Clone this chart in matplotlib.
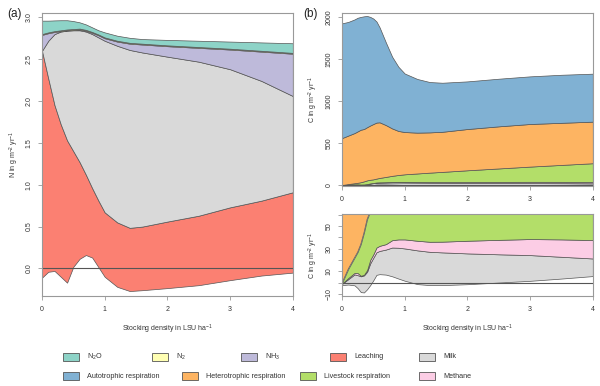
import numpy as np
import matplotlib
matplotlib.use("Agg")
import matplotlib.pyplot as plt
from matplotlib.patches import Rectangle

plt.rcParams["font.family"] = ["Liberation Sans", "DejaVu Sans"]
plt.rcParams["mathtext.default"] = "regular"

# ---- (a) nitrogen, stacked boundaries (g N m-2 yr-1) ----
x_n = [0, 0.1, 0.2, 0.3, 0.4, 0.5, 0.6, 0.7, 0.8, 0.9, 1.0, 1.2, 1.4, 1.6, 2.0, 2.5, 3.0, 3.5, 4.0]
n_base = [-0.11, -0.04, -0.03, -0.10, -0.17, 0.02, 0.115, 0.16, 0.13, 0.015, -0.10, -0.22, -0.27, -0.26, -0.235, -0.20, -0.14, -0.085, -0.05]
leach_top = [2.60, 2.27, 1.95, 1.72, 1.53, 1.40, 1.27, 1.12, 0.96, 0.81, 0.67, 0.55, 0.485, 0.50, 0.56, 0.63, 0.73, 0.81, 0.91]
milk_n_top = [2.60, 2.72, 2.80, 2.83, 2.84, 2.845, 2.845, 2.83, 2.80, 2.76, 2.72, 2.66, 2.61, 2.58, 2.53, 2.47, 2.38, 2.24, 2.06]
nh3_top = [2.79, 2.81, 2.825, 2.835, 2.845, 2.85, 2.855, 2.84, 2.815, 2.785, 2.75, 2.71, 2.685, 2.675, 2.655, 2.635, 2.615, 2.59, 2.565]
n2_top = [2.80, 2.82, 2.835, 2.845, 2.855, 2.86, 2.865, 2.85, 2.825, 2.795, 2.76, 2.72, 2.695, 2.685, 2.665, 2.645, 2.625, 2.60, 2.575]
n2o_top = [2.96, 2.96, 2.963, 2.965, 2.965, 2.955, 2.94, 2.915, 2.88, 2.845, 2.82, 2.78, 2.755, 2.74, 2.73, 2.72, 2.71, 2.70, 2.69]

# ---- (b) carbon, stacked boundaries (g C m-2 yr-1) ----
x_c = [0, 0.1, 0.2, 0.25, 0.3, 0.35, 0.4, 0.45, 0.5, 0.55, 0.6, 0.7, 0.8, 0.9, 1.0, 1.2, 1.4, 1.6, 2.0, 2.5, 3.0, 3.5, 4.0]
c_base = [-2.3, -1.8, -2.5, -5, -8.5, -8.8, -6, -2.3, 2, 6.8, 7.4, 7.0, 5.5, 3.5, 1.6, -1.4, -2.3, -2.3, -1.5, 0, 1.5, 3.5, 5.7]
milk_c_top = [-1.2, 3, 7.2, 6.5, 5.5, 6.3, 9.5, 17, 22, 26.8, 28, 29.2, 31, 30.8, 30.2, 28.5, 27.2, 26.7, 25.8, 25, 24.3, 22.8, 21.3]
methane_top = [-1, 4, 8.5, 8.4, 6, 6.8, 11, 20, 25, 31, 32.5, 34, 37.5, 38.2, 38.2, 37, 36.1, 36.2, 37, 37.8, 38.5, 38.2, 37.6]
livestock_top = [-0.5, 12, 22, 27, 34, 44, 56, 63, 68, 77, 85, 97, 110, 120, 128, 138, 148, 157, 176, 198, 220, 240, 260]
hetero_top = [560, 590, 620, 640, 660, 668, 690, 710, 728, 745, 748, 715, 675, 645, 632, 625, 628, 635, 668, 700, 728, 742, 756]
auto_top = [1928, 1945, 1975, 1995, 2005, 2012, 2016, 2005, 1985, 1950, 1880, 1700, 1530, 1410, 1330, 1265, 1228, 1220, 1236, 1268, 1296, 1315, 1328]

col = {"N2O": "#8DD3C7", "N2": "#FFFFB3", "NH3": "#BEBADA", "Leaching": "#FB8072",
       "Milk": "#D9D9D9", "Auto": "#80B1D3", "Hetero": "#FDB462",
       "Livestock": "#B3DE69", "Methane": "#FCCDE5"}
edge = "#555555"
axcol = "#999999"
txtcol = "#333333"
fs = 5

n_layers = [(n_base, leach_top, col["Leaching"]), (leach_top, milk_n_top, col["Milk"]),
            (milk_n_top, nh3_top, col["NH3"]), (nh3_top, n2_top, col["N2"]),
            (n2_top, n2o_top, col["N2O"])]
c_layers = [(c_base, milk_c_top, col["Milk"]), (milk_c_top, methane_top, col["Methane"]),
            (methane_top, livestock_top, col["Livestock"]), (livestock_top, hetero_top, col["Hetero"]),
            (hetero_top, auto_top, col["Auto"])]


def style(ax):
    for s in ax.spines.values():
        s.set_color(axcol)
        s.set_linewidth(0.8)
    ax.tick_params(direction="out", length=3, width=0.6, color=axcol,
                   labelsize=fs, labelcolor=txtcol, pad=4)
    ax.tick_params(which="minor", direction="out", length=3, width=0.6, color=axcol)
    ax.set_xlim(0, 4)
    ax.set_xticks([0, 1, 2, 3, 4])
    plt.setp(ax.get_yticklabels(), rotation=90, va="center")


def draw(ax, x, layers):
    for lo, hi, c in layers:
        ax.fill_between(x, lo, hi, facecolor=c, edgecolor=edge, linewidth=0.5)
    ax.axhline(0, color="#555555", linewidth=0.8)


fig = plt.figure(figsize=(6, 3.86), dpi=100)
xlab = "Stocking density in LSU ha$^{-1}$"

ax1 = fig.add_axes([0.07, 0.233, 0.418, 0.733])
draw(ax1, x_n, n_layers)
ax1.set_ylim(-0.33, 3.05)
ax1.set_yticks([0, 0.5, 1.0, 1.5, 2.0, 2.5, 3.0])
ax1.set_yticklabels(["0.0", "0.5", "1.0", "1.5", "2.0", "2.5", "3.0"])
style(ax1)
ax1.set_ylabel("N in g m$^{-2}$ yr$^{-1}$", fontsize=fs, color=txtcol, labelpad=3)
ax1.set_xlabel(xlab, fontsize=fs, color=txtcol, labelpad=7)

ax2 = fig.add_axes([0.57, 0.518, 0.418, 0.448])
draw(ax2, x_c, c_layers)
ax2.set_ylim(-12, 2050)
ax2.set_yticks([0, 500, 1000, 1500, 2000])
style(ax2)
ax2.set_ylabel("C in g m$^{-2}$ yr$^{-1}$", fontsize=fs, color=txtcol, labelpad=4)

ax3 = fig.add_axes([0.57, 0.233, 0.418, 0.212])
draw(ax3, x_c, c_layers)
ax3.set_ylim(-12, 60.5)
ax3.set_yticks([-10, 10, 30, 50])
ax3.set_yticks([0, 20, 40, 60], minor=True)
style(ax3)
ax3.set_ylabel("C in g m$^{-2}$ yr$^{-1}$", fontsize=fs, color=txtcol, labelpad=4)
ax3.set_xlabel(xlab, fontsize=fs, color=txtcol, labelpad=7)

fig.text(0.024, 0.963, "(a)", fontsize=8.5, color="#222222", ha="center", va="center")
fig.text(0.518, 0.963, "(b)", fontsize=8.5, color="#222222", ha="center", va="center")

# legend
legend_rows = [
    [("N$_2$O", col["N2O"], 63), ("N$_2$", col["N2"], 152), ("NH$_3$", col["NH3"], 241),
     ("Leaching", col["Leaching"], 330), ("Milk", col["Milk"], 419)],
    [("Autotrophic respiration", col["Auto"], 63), ("Heterotrophic respiration", col["Hetero"], 182),
     ("Livestock respiration", col["Livestock"], 300), ("Methane", col["Methane"], 419)],
]
for row, ypx in zip(legend_rows, [357, 376]):
    for label, c, xpx in row:
        fig.patches.append(Rectangle((xpx / 600, (386 - ypx - 4) / 386), 16 / 600, 8 / 386,
                                     transform=fig.transFigure, facecolor=c,
                                     edgecolor="#555555", linewidth=0.6))
        fig.text((xpx + 24) / 600, (386 - ypx) / 386, label, fontsize=5.2,
                 color=txtcol, ha="left", va="center")

fig.savefig("out.png", dpi=100)
